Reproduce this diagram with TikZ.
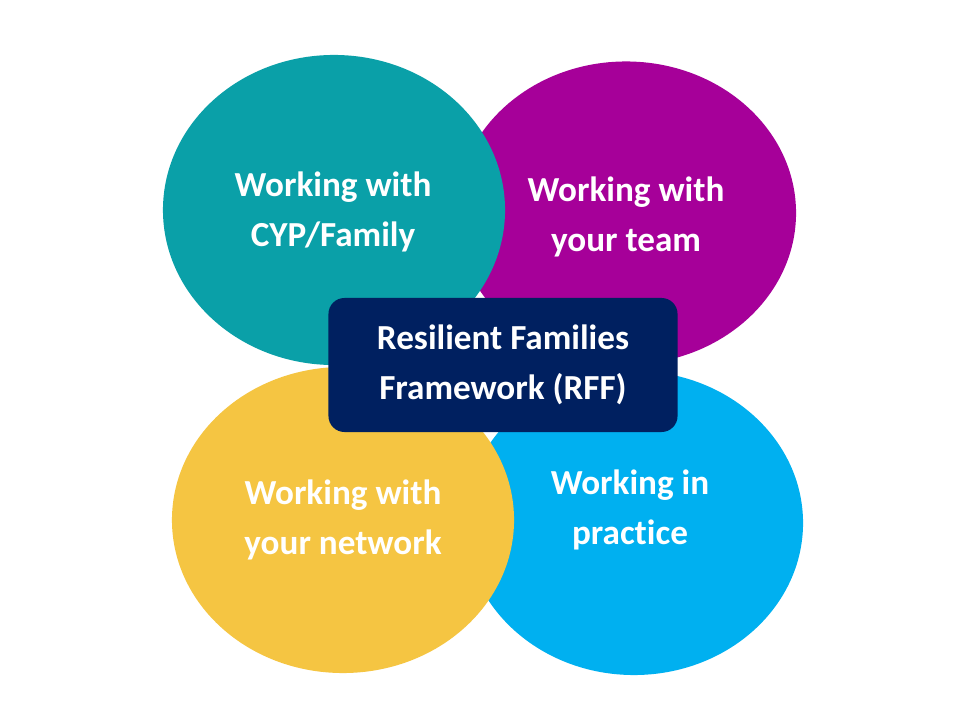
\documentclass[tikz,border=0pt]{standalone}
\usepackage{fontspec}
\setmainfont{Carlito}[Ligatures=NoCommon]
\usepackage{xcolor}
\usetikzlibrary{shapes.geometric}
\definecolor{rffteal}{RGB}{10,160,168}
\definecolor{rffpurple}{RGB}{166,0,153}
\definecolor{rffyellow}{RGB}{245,197,66}
\definecolor{rffblue}{RGB}{0,176,240}
\definecolor{rffnavy}{RGB}{0,32,96}

\begin{document}
\begin{tikzpicture}[x=0.025cm, y=-0.025cm,
  blob/.style={ellipse, inner sep=0pt, text=white, align=center,
               font=\fontsize{25}{35.5}\selectfont\bfseries},
  core/.style={rectangle, rounded corners=0.4cm, fill=rffnavy, text=white,
               align=center, minimum width=8.725cm, minimum height=3.35cm,
               font=\fontsize{25}{35.5}\selectfont\bfseries}
]
\useasboundingbox[fill=white] (0,0) rectangle (960,720);
% back circles
\node[blob, fill=rffpurple, minimum width=8.5cm, minimum height=7.575cm] (team) at (626,213) {};
\node[blob, fill=rffblue, minimum width=8.45cm, minimum height=7.6cm] (practice) at (634,523) {};
% front circles
\node[blob, fill=rffteal, minimum width=8.55cm, minimum height=7.75cm] (family) at (334,210) {};
\node[blob, fill=rffyellow, minimum width=8.55cm, minimum height=7.65cm] (network) at (343,520) {};
% labels
\node[blob] (familytxt) at (333,212) {Working with\\CYP/Family};
\node[blob] (teamtxt) at (626,217) {Working with\\your team};
\node[blob] (networktxt) at (343,520) {Working with\\your network};
\node[blob] (practicetxt) at (630,510) {Working in\\practice};
% centre
\node[core] (rff) at (503,365) {Resilient Families\\Framework (RFF)};
\end{tikzpicture}
\end{document}
